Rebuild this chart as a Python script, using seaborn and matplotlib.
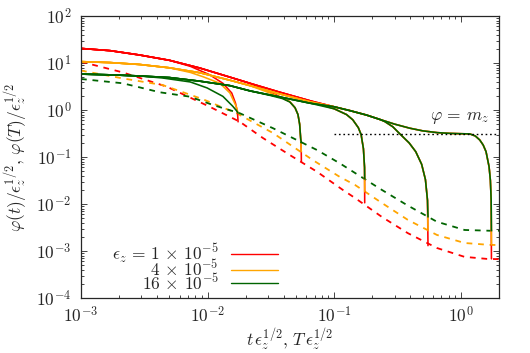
import numpy as np
import pandas as pd
import seaborn as sns
import matplotlib
matplotlib.use("Agg")
import matplotlib.pyplot as plt
from matplotlib.ticker import FuncFormatter, LogLocator, NullFormatter, FixedLocator

### data ###

eps_labels = [r'$\epsilon_z\,=\,1\,\times\,10^{-5}$', r'$4\,\times\,10^{-5}$', r'$16\,\times\,10^{-5}$']
colors = ['red', 'orange', 'darkgreen']
x_ticks = [1e-3, 1e-2, 1e-1, 1e0]
y_ticks = [1e-4, 1e-3, 1e-2, 1e-1, 1e0, 1e1, 1e2]

# final times of the protocols (scaled)
T_end = [0.0174, 0.055, 0.174, 0.55, 1.743]

# early part of the envelope, one per eps
t_early = [0.001, 0.0017, 0.0029, 0.005, 0.0087, 0.015, 0.0216, 0.037, 0.064]
phi_early_red = [20.4, 18.3, 14.8, 11.4, 7.8, 5.0, 3.7, 2.4, 1.58]
phi_early_orange = [10.7, 10.2, 9.3, 7.9, 6.2, 4.3, 3.3, 2.2, 1.5]
phi_early_green = [5.8, 5.6, 5.3, 4.9, 4.1, 3.3, 2.55, 1.9, 1.4]

# late part of the envelope (all eps collapse)
t_late = [0.1, 0.133, 0.18, 0.229, 0.3, 0.395, 0.5, 0.65, 0.82, 1.0, 1.175, 1.3, 1.41, 1.5, 1.58, 1.67, 1.71, 1.735]
phi_late = [1.17, 0.97, 0.78, 0.63, 0.5, 0.41, 0.36, 0.33, 0.318, 0.313, 0.31, 0.28, 0.23, 0.18, 0.13, 0.062, 0.032, 0.012]

# branches leaving the envelope before each T (T1 differs by eps)
t_b1_red = [0.0073, 0.0104, 0.0132, 0.0155, 0.0166, 0.0172]
phi_b1_red = [8.5, 5.6, 3.7, 2.3, 1.4, 0.9]
t_b1_orange = [0.0073, 0.0092, 0.0125, 0.015, 0.0168]
phi_b1_orange = [6.3, 5.1, 3.7, 2.3, 1.2]
t_b1_green = [0.0044, 0.0073, 0.0099, 0.0132, 0.0158, 0.017]
phi_b1_green = [4.8, 3.95, 2.95, 1.95, 1.2, 0.95]

t_b2 = [0.031, 0.039, 0.0446, 0.049, 0.0517, 0.0533, 0.0543, 0.0549]
phi_b2_red = [2.45, 1.8, 1.5, 1.12, 0.8, 0.5, 0.25, 0.13]
phi_b2_orange = [2.3, 1.8, 1.5, 1.12, 0.8, 0.5, 0.25, 0.13]
phi_b2_green = [2.05, 1.75, 1.48, 1.12, 0.8, 0.5, 0.25, 0.2]

t_b3 = [0.1, 0.125, 0.14, 0.155, 0.163, 0.17, 0.1735]
phi_b3 = [1.06, 0.8, 0.62, 0.42, 0.3, 0.15, 0.06]

t_b4 = [0.25, 0.29, 0.33, 0.39, 0.44, 0.49, 0.525, 0.545]
phi_b4 = [0.57, 0.44, 0.31, 0.2, 0.13, 0.07, 0.033, 0.012]

# phi(T) values, dashed curves
T_red = [0.001, 0.00111, 0.00214, 0.00477, 0.0104, 0.018, 0.0273, 0.0446, 0.073, 0.117, 0.146, 0.238, 0.381, 0.646, 1.07, 1.6, 2.0]
phiT_red = [10.6, 9.9, 6.3, 3.13, 1.17, 0.56, 0.254, 0.11, 0.0487, 0.0199, 0.0134, 0.0053, 0.0024, 0.00116, 0.00075, 0.00068, 0.00067]
T_orange = [0.001, 0.00214, 0.0044, 0.0092, 0.017, 0.0328, 0.0677, 0.111, 0.146, 0.238, 0.381, 0.646, 1.07, 1.68, 2.0]
phiT_orange = [6.9, 4.7, 3.4, 1.69, 0.85, 0.324, 0.086, 0.0375, 0.0254, 0.0105, 0.0046, 0.0022, 0.00148, 0.00135, 0.00134]
T_green = [0.001, 0.00214, 0.0042, 0.00725, 0.011, 0.018, 0.0328, 0.0506, 0.073, 0.111, 0.146, 0.238, 0.375, 0.646, 1.07, 1.68, 2.0]
phiT_green = [4.57, 3.7, 2.38, 1.92, 1.28, 0.85, 0.41, 0.23, 0.141, 0.073, 0.0457, 0.0199, 0.0095, 0.0042, 0.0028, 0.0027, 0.0027]

# where each solid curve lands at t = T
phi_land_red = [0.56, 0.079, 0.0106, 0.0013, 0.00068]
phi_land_orange = [0.85, 0.13, 0.0182, 0.0027, 0.00135]
phi_land_green = [0.86, 0.204, 0.034, 0.0053, 0.0027]

m_z = 0.31

### build tables ###
early = {'red': phi_early_red, 'orange': phi_early_orange, 'darkgreen': phi_early_green}
b1 = {'red': (t_b1_red, phi_b1_red), 'orange': (t_b1_orange, phi_b1_orange),
      'darkgreen': (t_b1_green, phi_b1_green)}
b2 = {'red': phi_b2_red, 'orange': phi_b2_orange, 'darkgreen': phi_b2_green}
land = {'red': phi_land_red, 'orange': phi_land_orange, 'darkgreen': phi_land_green}

rows = []
for c in colors:
    env_t = t_early + t_late
    env_p = early[c] + phi_late
    branches = [b1[c], (t_b2, b2[c]), (t_b3, phi_b3), (t_b4, phi_b4), ([], [])]
    for k, (bt, bp) in enumerate(branches):
        start = bt[0] if bt else T_end[k]
        tt = [t for t in env_t if t < start] + list(bt) + [T_end[k]]
        pp = [p for t, p in zip(env_t, env_p) if t < start] + list(bp) + [land[c][k]]
        for t, p in zip(tt, pp):
            rows.append({'t': t, 'phi': p, 'color': c, 'curve': f'{c}{k}'})
solid = pd.DataFrame(rows)

dashed = pd.concat([
    pd.DataFrame({'T': T_red, 'phi': phiT_red, 'color': 'red'}),
    pd.DataFrame({'T': T_orange, 'phi': phiT_orange, 'color': 'orange'}),
    pd.DataFrame({'T': T_green, 'phi': phiT_green, 'color': 'darkgreen'}),
])

### plot ###
sns.set_style("ticks")
plt.rcParams['mathtext.fontset'] = 'cm'
plt.rcParams['font.family'] = 'serif'
plt.rcParams['font.serif'] = ['cmr10', 'DejaVu Serif']

fig = plt.figure(figsize=(5.3, 3.53), dpi=100)
ax = fig.add_axes([0.1528, 0.1558, 0.7887, 0.7989])

pal = {c: c for c in colors}
sns.lineplot(data=dashed, x='T', y='phi', hue='color', palette=pal, estimator=None,
             sort=False, lw=1.3, dashes=False, legend=False, ax=ax)
for ln in ax.get_lines():
    ln.set_dashes((3.2, 3.2))

sns.lineplot(data=solid, x='t', y='phi', hue='color', units='curve', palette=pal,
             estimator=None, sort=False, lw=1.15, legend=False, ax=ax)

ax.plot([0.1, 2.0], [m_z, m_z], color='black', lw=1.0, ls=(0, (1.2, 2.0)))
ax.text(1.68, 0.68, r'$\varphi\,=\,m_z$', ha='right', va='center', fontsize=12.5)

ax.set_xscale('log')
ax.set_yscale('log')
ax.set_xlim(1e-3, 2.0)
ax.set_ylim(1e-4, 1e2)

fmt = FuncFormatter(lambda v, p: r'$10^{%d}$' % int(round(np.log10(v))))
for axis, ticks in ((ax.xaxis, x_ticks), (ax.yaxis, y_ticks)):
    axis.set_major_locator(FixedLocator(ticks))
    axis.set_minor_locator(LogLocator(base=10, subs=np.arange(2, 10), numticks=12))
    axis.set_major_formatter(fmt)
    axis.set_minor_formatter(NullFormatter())
ax.tick_params(which='both', direction='in', top=True, right=True, width=0.6, labelsize=12.5)
ax.tick_params(axis='x', which='major', length=4.5, pad=5)
ax.tick_params(axis='y', which='major', length=4.5, pad=7)
ax.tick_params(which='minor', length=2.5)
for s in ax.spines.values():
    s.set_linewidth(0.9)

ax.set_xlabel(r'$t\,\epsilon_z^{1/2},\, T\,\epsilon_z^{1/2}$', fontsize=12.5, labelpad=1)
ax.set_ylabel(r'$\varphi(t)/\epsilon_z^{1/2},\, \varphi(T)/\epsilon_z^{1/2}$', fontsize=12.5, labelpad=4)

handles = [plt.Line2D([], [], color=c, lw=1.0) for c in colors]
ax.legend(handles, eps_labels, loc='lower right', bbox_to_anchor=(0.471, 0.02),
          markerfirst=False, frameon=False, handlelength=2.7, handletextpad=0.7,
          borderpad=0, borderaxespad=0, labelspacing=-0.39, fontsize=12.5)

fig.savefig('out.png', dpi=100)
